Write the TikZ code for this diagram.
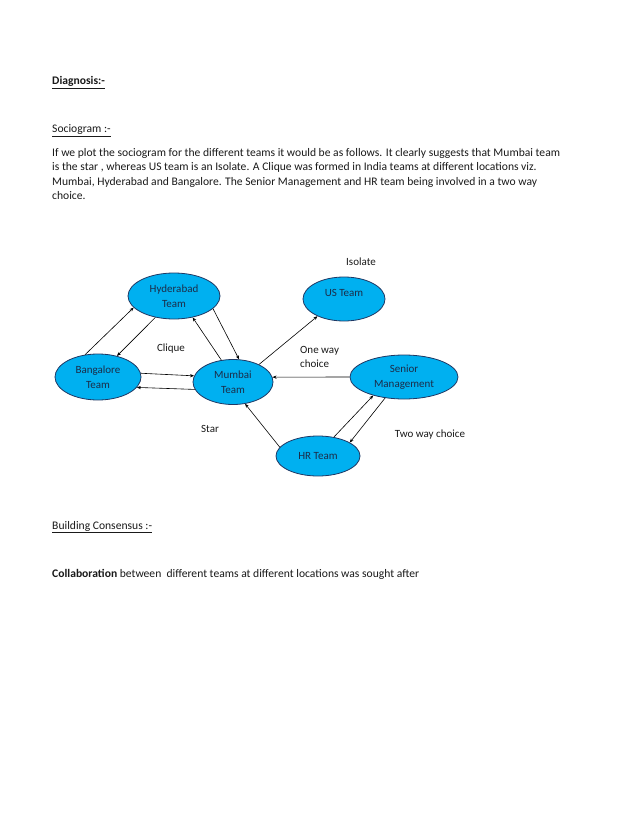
\documentclass[tikz,border=0pt]{standalone}
\usepackage{fontspec}
\setmainfont{Carlito}
\usetikzlibrary{shapes.geometric,arrows.meta}
\definecolor{nodefill}{HTML}{00B0F0}
\definecolor{nodeline}{HTML}{1F3864}
\definecolor{nodetext}{HTML}{1C2C48}
\definecolor{bodytext}{HTML}{1A1A1A}
\tikzset{
  team/.style={ellipse, draw=nodeline, fill=nodefill, line width=0.8pt, inner sep=0pt,
    text=nodetext, align=center, font=\fontsize{11}{14.5}\selectfont},
  para/.style={anchor=base west, inner sep=0pt, text=bodytext, font=\fontsize{11.6}{13}\selectfont},
  lbl/.style={inner sep=0pt, text=bodytext, font=\fontsize{11}{13.5}\selectfont},
  link/.style={-{Stealth[length=4pt,width=3.2pt]}, line width=0.6pt, black}
}
\begin{document}
\begin{tikzpicture}[x=1pt,y=-1pt]
\useasboundingbox (0,0) rectangle (638,826);
\fill[white] (0,0) rectangle (638,826);
% text
\node[para,font=\fontsize{11.6}{13}\selectfont\bfseries] (t1) at (52,85) {\underline{Diagnosis:-}};
\node[para] (t2) at (52,133) {\underline{Sociogram :-}};
\node[para] (p1) at (52,157) {If we plot the sociogram for the different teams it would be as follows. It clearly suggests that Mumbai team};
\node[para] (p2) at (52,171) {is the star , whereas US team is an Isolate. A Clique was formed in India teams at different locations viz.};
\node[para] (p3) at (52,186) {Mumbai, Hyderabad and Bangalore. The Senior Management and HR team being involved in a two way};
\node[para] (p4) at (52,200) {choice.};
\node[para] (t3) at (52,529) {\underline{Building Consensus :-}};
\node[para] (t4) at (52,577) {\textbf{Collaboration} between\ \ different teams at different locations was sought after};
% nodes
\node[team, minimum width=92pt, minimum height=46pt] (hyd) at (174,296) {Hyderabad\\Team};
\node[team, minimum width=82pt, minimum height=44pt] (us) at (344,299) {US Team\\[-2pt]\phantom{T}};
\node[team, minimum width=86pt, minimum height=46pt] (ban) at (98,377) {Bangalore\\Team};
\node[team, minimum width=80pt, minimum height=45pt] (mum) at (233,382) {Mumbai\\Team};
\node[team, minimum width=108pt, minimum height=44pt] (sen) at (404,377) {Senior\\Management};
\node[team, minimum width=84pt, minimum height=40pt] (hr) at (318,456) {HR Team};
% labels
\node[lbl] (liso) at (361,262) {Isolate};
\node[lbl] (lcli) at (171,349) {Clique};
\node[lbl, anchor=west, align=left] (lone) at (300,357) {One way\\choice};
\node[lbl] (lstar) at (210,429) {Star};
\node[lbl] (ltwo) at (430,435) {Two way choice};
% connectors
\draw[link] (ban.120) -- (hyd.196);
\draw[link] (hyd.229) -- (ban.48);
\draw[link] (mum.118) -- (hyd.311);
\draw[link] (hyd.-18) -- (mum.75);
\draw[link] (ban.5) -- (mum.171);
\draw[link] (mum.191) -- (ban.-15);
\draw[link] (mum.34) -- (us.213);
\draw[link] (sen.180) -- (mum.7);
\draw[link] (hr.167) -- (mum.-61);
\draw[link] (hr.50) -- (sen.211);
\draw[link] (sen.228) -- (hr.23);
\end{tikzpicture}
\end{document}
